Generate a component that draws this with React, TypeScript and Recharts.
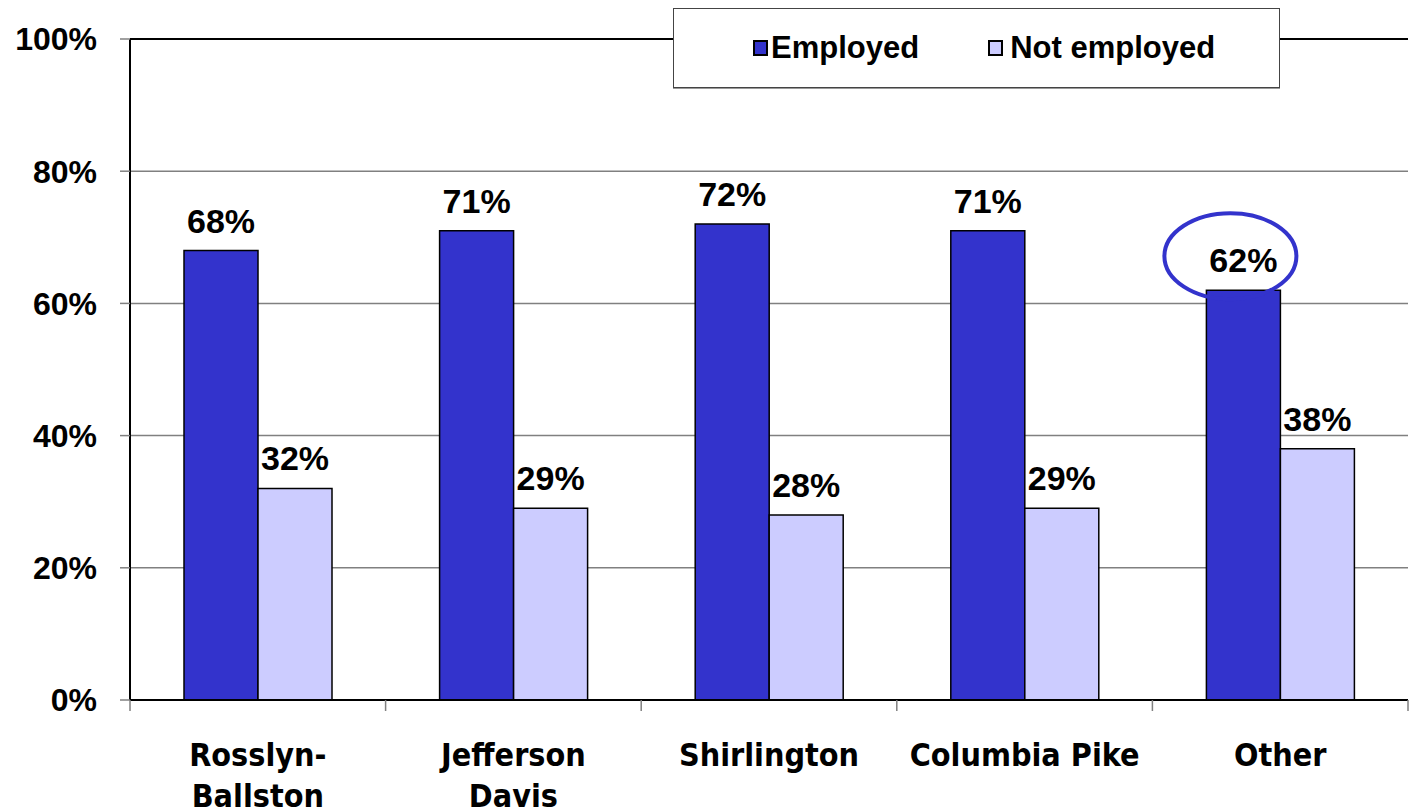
import React from "react";
import {
  Bar,
  BarChart,
  CartesianGrid,
  LabelList,
  Legend,
  ReferenceLine,
  XAxis,
  YAxis,
} from "recharts";

const categories = ["Rosslyn-\nBallston", "Jefferson\nDavis", "Shirlington", "Columbia Pike", "Other"];
const employed = [68, 71, 72, 71, 62];
const notEmployed = [32, 29, 28, 29, 38];
const yTicks = [0, 20, 40, 60, 80, 100];
const circledCategory = "Other";

const EMPLOYED_COLOR = "#3333CC";
const NOT_EMPLOYED_COLOR = "#CCCCFF";
const ARIAL = "'Liberation Sans', Arial, sans-serif";
const TAHOMA = "'DejaVu Sans Condensed', 'DejaVu Sans', sans-serif";

const WIDTH = 1410;
const HEIGHT = 809;
const MARGIN = { top: 39, right: 2, bottom: 0, left: 10 };
const Y_AXIS_WIDTH = 120;
const BAND = (WIDTH - MARGIN.left - Y_AXIS_WIDTH - MARGIN.right) / categories.length;

const rows = categories.map((name, i) => ({
  name,
  employed: employed[i],
  notEmployed: notEmployed[i],
}));

const legendItems = [
  { label: "Employed", color: EMPLOYED_COLOR },
  { label: "Not employed", color: NOT_EMPLOYED_COLOR },
];

function CategoryTick(props: any) {
  const { x, y, payload, index, visibleTicksCount } = props;
  const lines = String(payload.value).split("\n");
  const left = x - BAND / 2;
  const right = x + BAND / 2;
  return (
    <g>
      <line x1={left} y1={y} x2={left} y2={y + 11} stroke="#808080" strokeWidth={1.5} />
      {index === visibleTicksCount - 1 ? (
        <line x1={right} y1={y} x2={right} y2={y + 11} stroke="#808080" strokeWidth={1.5} />
      ) : null}
      <text x={x} y={y + 66} textAnchor="middle" fill="#000" fontFamily={TAHOMA} fontWeight={700} fontSize={32}>
        {lines.map((line, i) => (
          <tspan key={line} x={x} dy={i === 0 ? 0 : 41}>
            {line}
          </tspan>
        ))}
      </text>
    </g>
  );
}

function ValueLabel(props: any) {
  const { x, y, width, value, index } = props;
  const cx = x + width / 2;
  const circled = rows[index]?.name === circledCategory && props.circle;
  return (
    <g>
      {circled ? (
        <ellipse cx={cx - 13} cy={y - 34} rx={66} ry={43} fill="none" stroke={EMPLOYED_COLOR} strokeWidth={4} />
      ) : null}
      <text x={cx} y={y - 18} textAnchor="middle" fill="#000" fontFamily={ARIAL} fontWeight={700} fontSize={34}>
        {`${value}%`}
      </text>
    </g>
  );
}

function LegendBox() {
  return (
    <div
      style={{
        boxSizing: "border-box",
        width: 607,
        height: 80,
        background: "#fff",
        border: "1px solid #444",
        boxShadow: "0 1px 0 #999",
        display: "flex",
        alignItems: "center",
        paddingLeft: 79,
        fontFamily: ARIAL,
        fontWeight: 700,
        fontSize: 31,
        color: "#000",
      }}
    >
      {legendItems.map((item, i) => (
        <span key={item.label} style={{ display: "flex", alignItems: "center", marginLeft: i === 0 ? 0 : 69 }}>
          <span
            style={{
              boxSizing: "border-box",
              width: 15,
              height: 16,
              background: item.color,
              border: "2px solid #000",
              marginRight: i === 0 ? 3 : 7,
            }}
          />
          {item.label}
        </span>
      ))}
    </div>
  );
}

export default function App() {
  return (
    <div style={{ position: "absolute", left: 0, top: 0, width: WIDTH, height: HEIGHT, background: "#fff" }}>
      <BarChart
        width={WIDTH}
        height={HEIGHT}
        data={rows}
        margin={MARGIN}
        barCategoryGap={54}
        barGap={0}
      >
        <CartesianGrid vertical={false} stroke="#808080" strokeWidth={1.5} />
        <XAxis
          dataKey="name"
          interval={0}
          height={HEIGHT - 700 - MARGIN.bottom}
          tickLine={false}
          tickSize={0}
          tickMargin={0}
          axisLine={{ stroke: "#000", strokeWidth: 2 }}
          tick={<CategoryTick />}
        />
        <YAxis
          width={Y_AXIS_WIDTH}
          domain={[0, 100]}
          ticks={yTicks}
          interval={0}
          tickFormatter={(v) => `${v}%`}
          tickSize={10}
          tickMargin={23}
          axisLine={{ stroke: "#000", strokeWidth: 2 }}
          tickLine={{ stroke: "#808080", strokeWidth: 1.5 }}
          tick={{ fill: "#000", fontFamily: ARIAL, fontWeight: 700, fontSize: 32 }}
        />
        <YAxis
          yAxisId="frame"
          orientation="right"
          width={0}
          domain={[0, 100]}
          tick={false}
          tickLine={false}
          axisLine={{ stroke: "#000", strokeWidth: 2 }}
        />
        <ReferenceLine y={100} stroke="#000" strokeWidth={2} />
        <Legend
          layout="horizontal"
          verticalAlign="middle"
          align="center"
          content={() => <LegendBox />}
          wrapperStyle={{ left: 673, top: 8, width: 607, height: 80 }}
        />
        <Bar dataKey="employed" name="Employed" fill={EMPLOYED_COLOR} stroke="#000" strokeWidth={1.5} isAnimationActive={false}>
          <LabelList dataKey="employed" content={<ValueLabel circle />} />
        </Bar>
        <Bar dataKey="notEmployed" name="Not employed" fill={NOT_EMPLOYED_COLOR} stroke="#000" strokeWidth={1.5} isAnimationActive={false}>
          <LabelList dataKey="notEmployed" content={<ValueLabel />} />
        </Bar>
      </BarChart>
    </div>
  );
}
